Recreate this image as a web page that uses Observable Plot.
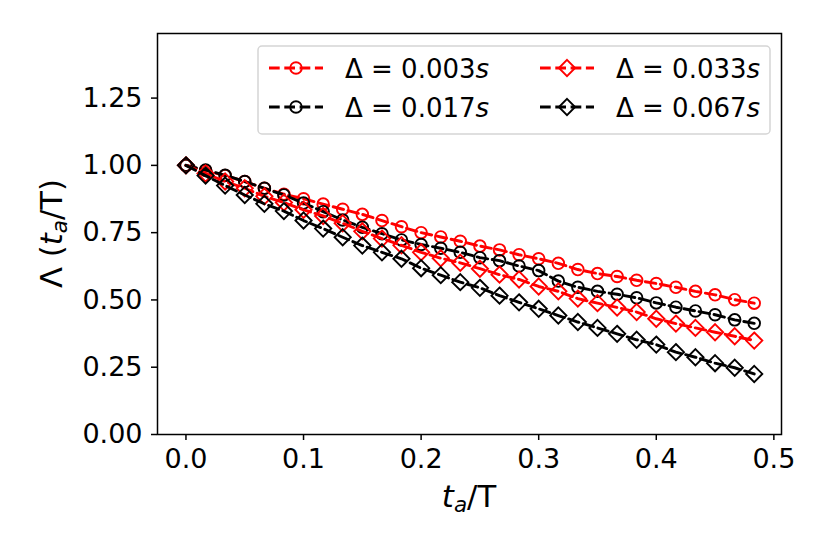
<!DOCTYPE html>
<html><head><meta charset="utf-8">
<script src="https://cdn.jsdelivr.net/npm/d3@7"></script>
<script src="https://cdn.jsdelivr.net/npm/@observablehq/plot@0.6"></script>
<style>
body{margin:0;background:#fff}
#chart{position:relative;width:830px;height:554px}
</style>
</head><body><div id="chart"></div>
<script>
// t_a / T sample positions
const tA = [0, 0.0167, 0.0333, 0.05, 0.0667, 0.0833, 0.1, 0.1167, 0.1333, 0.15,
  0.1667, 0.1833, 0.2, 0.2167, 0.2333, 0.25, 0.2667, 0.2833, 0.3, 0.3167,
  0.3333, 0.35, 0.3667, 0.3833, 0.4, 0.4167, 0.4333, 0.45, 0.4667, 0.4833];

// Λ(t_a/T) for each Δ
const lam003 = [1.000, 0.981, 0.962, 0.940, 0.915, 0.893, 0.876, 0.856, 0.837, 0.818,
  0.795, 0.772, 0.750, 0.734, 0.718, 0.700, 0.686, 0.668, 0.653, 0.636,
  0.613, 0.598, 0.587, 0.573, 0.561, 0.547, 0.532, 0.519, 0.501, 0.488];
const lam017 = [1.000, 0.983, 0.963, 0.940, 0.915, 0.890, 0.860, 0.828, 0.797, 0.770,
  0.746, 0.723, 0.706, 0.692, 0.677, 0.657, 0.646, 0.626, 0.609, 0.570,
  0.547, 0.532, 0.521, 0.508, 0.489, 0.473, 0.459, 0.445, 0.426, 0.413];
const lam033 = [1.000, 0.970, 0.940, 0.915, 0.885, 0.862, 0.835, 0.812, 0.785, 0.755,
  0.728, 0.703, 0.677, 0.655, 0.638, 0.616, 0.594, 0.576, 0.550, 0.532,
  0.505, 0.488, 0.472, 0.455, 0.430, 0.412, 0.396, 0.380, 0.365, 0.349];
const lam067 = [1.000, 0.962, 0.925, 0.890, 0.857, 0.830, 0.795, 0.765, 0.733, 0.702,
  0.677, 0.653, 0.618, 0.592, 0.566, 0.545, 0.516, 0.491, 0.467, 0.442,
  0.418, 0.396, 0.374, 0.352, 0.334, 0.306, 0.287, 0.265, 0.248, 0.225];

const deltas = ["0.003", "0.017", "0.033", "0.067"];
const seriesValues = [lam003, lam017, lam033, lam067];

const xTicks = [0, 0.1, 0.2, 0.3, 0.4, 0.5];
const yTicks = [0, 0.25, 0.5, 0.75, 1.0, 1.25];

// styles
const colors = ["#ff0000", "#000000", "#ff0000", "#000000"];
const symbols = ["circle", "circle", "diamond2", "diamond2"];
const radii = [5.8, 5.8, 7.3, 7.3];

const rows = seriesValues.map((vals, i) => vals.map((v, k) => ({t: tA[k], lam: v, s: deltas[i]})));

const marks = [];
rows.forEach((data, i) => {
  marks.push(Plot.line(data, {x: "t", y: "lam", stroke: colors[i], strokeWidth: 2.9, strokeDasharray: "10.7,4.6"}));
  marks.push(Plot.dot(data, {x: "t", y: "lam", symbol: () => symbols[i], r: radii[i], stroke: colors[i], fill: "none", strokeWidth: 1.9}));
});

const chart = Plot.plot({
  width: 830, height: 554,
  marginLeft: 157, marginRight: 49, marginTop: 33, marginBottom: 120,
  style: {fontFamily: "DejaVu Sans", background: "white", color: "black"},
  x: {domain: [-0.0242, 0.5065]},
  y: {domain: [0, 1.49]},
  symbol: {type: "identity"},
  marks: [
    ...marks,
    Plot.frame({stroke: "black", strokeWidth: 1.5}),
    Plot.axisX({ticks: xTicks, tickFormat: d3.format(".1f"), tickSize: 6, tickPadding: 8, fontSize: 27, label: null, strokeWidth: 1.5}),
    Plot.axisY({ticks: yTicks, tickFormat: d3.format(".2f"), tickSize: 6, tickPadding: 9, fontSize: 27, label: null, strokeWidth: 1.5})
  ]
});
document.getElementById("chart").appendChild(chart);

// axis labels and legend
const svg = d3.select(chart);
const xl = svg.append("text").attr("x", 469).attr("y", 507).attr("text-anchor", "middle")
  .attr("font-size", 30.7).attr("font-family", "DejaVu Sans").attr("fill", "black");
xl.append("tspan").attr("font-style", "italic").text("t");
xl.append("tspan").attr("font-style", "italic").attr("font-size", 21.5).attr("dy", 5).text("a");
xl.append("tspan").attr("dy", -5).text("/T");

const yl = svg.append("text").attr("transform", "translate(62,233.5) rotate(-90)").attr("text-anchor", "middle")
  .attr("font-size", 30.7).attr("font-family", "DejaVu Sans").attr("fill", "black");
yl.append("tspan").text("Λ (");
yl.append("tspan").attr("font-style", "italic").text("t");
yl.append("tspan").attr("font-style", "italic").attr("font-size", 21.5).attr("dy", 5).text("a");
yl.append("tspan").attr("dy", -5).text("/T)");

const lg = svg.append("g").attr("font-family", "DejaVu Sans").attr("font-size", 26).attr("text-anchor", "start");
lg.append("rect").attr("x", 258).attr("y", 46).attr("width", 512).attr("height", 88).attr("rx", 4)
  .attr("fill", "white").attr("fill-opacity", 0.8).attr("stroke", "#d5d5d5").attr("stroke-width", 1.5);
const colX = [269, 540], rowY = [68, 107];
deltas.forEach((d, i) => {
  const cx = colX[Math.floor(i / 2)], cy = rowY[i % 2];
  lg.append("line").attr("x1", cx).attr("x2", cx + 54).attr("y1", cy).attr("y2", cy)
    .attr("stroke", colors[i]).attr("stroke-width", 2.9).attr("stroke-dasharray", "10.7,4.6");
  const sym = d3.symbol(symbols[i] === "circle" ? d3.symbolCircle : d3.symbolDiamond2, Math.PI * radii[i] * radii[i]);
  lg.append("path").attr("d", sym()).attr("transform", `translate(${cx + 27},${cy})`)
    .attr("fill", "none").attr("stroke", colors[i]).attr("stroke-width", 1.9);
  const t = lg.append("text").attr("x", cx + 76).attr("y", cy + 9.5).attr("fill", "black").attr("text-anchor", "start");
  t.append("tspan").text("Δ = " + d);
  t.append("tspan").attr("font-style", "italic").text("s");
});
</script>
</body></html>
